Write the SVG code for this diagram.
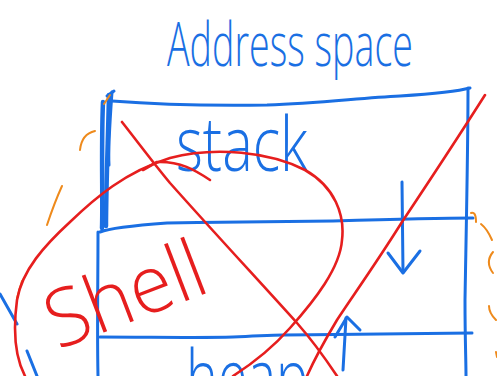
<svg xmlns="http://www.w3.org/2000/svg" width="497" height="376" viewBox="0 0 497 376">
<style>
.b{fill:none;stroke:#1a6fe3;stroke-width:3;stroke-linecap:round;stroke-linejoin:round}
.bt{fill:none;stroke:#1a6fe3;stroke-width:4.5;stroke-linecap:round}
.r{fill:none;stroke:#e61e1e;stroke-width:2.6;stroke-linecap:round;stroke-linejoin:round}
.o{fill:none;stroke:#ee8a1c;stroke-width:2;stroke-linecap:round}
.tb{fill:#1a6fe3;font-family:"Open Sans","Liberation Sans",sans-serif;font-weight:300}
.tr{fill:#e61e1e;font-family:"Open Sans","Liberation Sans",sans-serif;font-weight:300}
</style>
<rect width="497" height="376" fill="#ffffff"/>
<g id="title"><text class="tb" x="167" y="66" font-size="60" textLength="246" lengthAdjust="spacingAndGlyphs">Address space</text></g>
<g id="frame">
<path class="b" d="M112,101 C150,104 200,106 267,105 C320,103 360,98 400,96 C430,94 455,92 470,88"/>
<path class="b" d="M107,96 L114,91"/>
<path class="bt" d="M103,102 C101,150 103,200 102,228"/>
<path class="bt" d="M109,95 C108,140 106,190 106,226"/>
<path class="b" d="M112,92 C110,120 108,150 109,165"/>
<path class="b" d="M98,232 C98,280 97,330 98,376"/>
<path class="b" d="M468,88 C468,150 466,240 465,300 C465,340 466,360 466,376"/>
<path class="b" d="M100,232 C110,228 140,225 167,223 C230,222 300,221 333,221 C400,219 440,218 473,218"/>
<path class="b" d="M100,337 C150,337 200,338 233,337 C260,336 270,335 283,335 C350,334 420,334 472,333"/>
</g>
<g id="stack"><text class="tb" x="176" y="171" font-size="76" textLength="132" lengthAdjust="spacingAndGlyphs">stack</text></g>
<g id="heap"><text class="tb" x="186" y="404" font-size="76" textLength="122" lengthAdjust="spacingAndGlyphs">heap</text></g>
<g id="connectors">
<path class="b" d="M402,182 L403,272"/>
<path class="b" d="M388,253 L403,273 L420,251"/>
<path class="b" d="M343,370 L346,318"/>
<path class="b" d="M335,337 L347,317 L360,330"/>
</g>
<g id="marks">
<path class="b" d="M0,294 L17,324"/>
<path class="b" d="M27,351 L37,376"/>
<path class="o" d="M80,150 C81,140 86,133 95,131"/>
<path class="o" d="M104,104 L110,95"/>
<path class="o" d="M47,225 C52,210 57,197 62,186"/>
<path class="o" d="M17,298 L22,281"/>
<path class="o" d="M471,213 C474,212 476,214 476,222"/>
<path class="o" d="M481,224 C486,228 489,233 492,240"/>
<path class="o" d="M493,252 C488,258 487,265 493,273"/>
<path class="o" d="M489,306 C489,311 491,315 496,320"/>
<path class="o" d="M496,352 L497,357"/>
</g>
<g id="shell">
<path class="r" d="M25,376 C14,355 13,330 17,300 C22,270 45,245 70,222 C95,198 125,172 170,158 C215,146 270,152 305,170 C335,187 345,215 342,240 C340,268 315,300 290,328 C275,345 255,362 233,376"/>
<path class="r" d="M122,122 C140,145 155,165 170,183 C210,228 260,282 297,323 C312,340 325,358 337,376"/>
<path class="r" d="M485,95 C450,150 420,195 402,222 C375,265 350,300 337,320 C325,340 315,358 307,376"/>
<path class="r" d="M143,170 L157,162 C180,161 195,170 210,180"/>
<text class="tr" x="0" y="0" font-size="80" textLength="165" lengthAdjust="spacingAndGlyphs" transform="translate(58,350) rotate(-21)">Shell</text>
</g>
</svg>
